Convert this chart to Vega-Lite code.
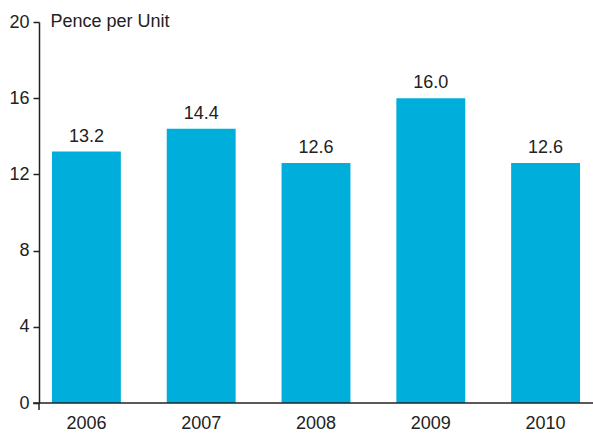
{
  "$schema": "https://vega.github.io/schema/vega-lite/v6.json",
  "autosize": "none",
  "width": 554,
  "height": 381,
  "padding": {"left": 39, "top": 22, "right": 0, "bottom": 32},
  "background": "white",
  "config": {
    "font": "Liberation Sans",
    "view": {"stroke": null}
  },
  "data": {
    "values": [
      {"year": "2006", "value": 13.2},
      {"year": "2007", "value": 14.4},
      {"year": "2008", "value": 12.6},
      {"year": "2009", "value": 16.0},
      {"year": "2010", "value": 12.6}
    ]
  },
  "encoding": {
    "x": {
      "field": "year",
      "type": "nominal",
      "scale": {"paddingInner": 0.4, "paddingOuter": 0.113},
      "axis": {
        "title": null,
        "labelAngle": 0,
        "ticks": false,
        "domain": false,
        "labelPadding": 11,
        "labelFontSize": 18,
        "labelColor": "#222222"
      }
    },
    "y": {
      "field": "value",
      "type": "quantitative",
      "scale": {"domain": [0, 20]},
      "axis": {
        "values": [0, 4, 8, 12, 16, 20],
        "grid": false,
        "domainColor": "#222222",
        "domainWidth": 1.5,
        "tickColor": "#222222",
        "tickSize": 6,
        "tickWidth": 1.5,
        "labelPadding": 4,
        "labelFontSize": 18,
        "labelColor": "#222222",
        "title": "Pence per Unit",
        "titleAngle": 0,
        "titleAlign": "left",
        "titleBaseline": "alphabetic",
        "titleX": 11,
        "titleY": 4,
        "titleFontSize": 18,
        "titleFontWeight": "normal",
        "titleColor": "#222222"
      }
    }
  },
  "layer": [
    {
      "mark": {"type": "bar", "color": "#00AEDB"}
    },
    {
      "mark": {"type": "text", "baseline": "alphabetic", "dy": -10, "fontSize": 18, "color": "#222222"},
      "encoding": {
        "text": {"field": "value", "type": "quantitative", "format": ".1f"}
      }
    },
    {
      "data": {"values": [{"y0": 0, "y1": -0.37}]},
      "mark": {"type": "rule", "color": "#222222", "strokeWidth": 1.5},
      "encoding": {
        "x": {"value": 0},
        "y": {"field": "y0", "type": "quantitative"},
        "y2": {"field": "y1"}
      }
    },
    {
      "data": {"values": [{"y0": 0}]},
      "mark": {"type": "rule", "color": "#222222", "strokeWidth": 1.5},
      "encoding": {
        "x": {"value": -6},
        "x2": {"value": 554},
        "y": {"field": "y0", "type": "quantitative"}
      }
    }
  ]
}
